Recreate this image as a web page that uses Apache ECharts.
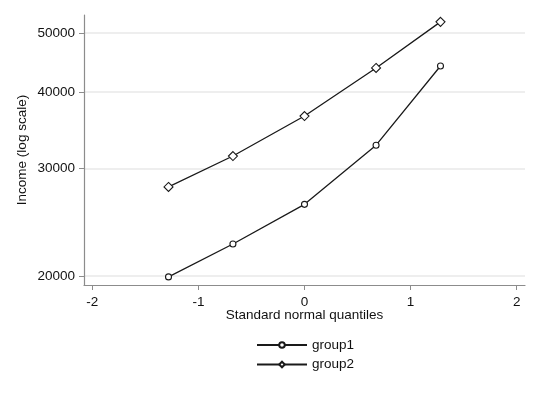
<!DOCTYPE html>
<html>
<head>
<meta charset="utf-8">
<script src="https://cdn.jsdelivr.net/npm/echarts@6/dist/echarts.min.js"></script>
<style>html,body{margin:0;padding:0;background:#fff}#c{width:540px;height:393px}</style>
</head>
<body>
<div id="c"></div>
<script>
const quantiles = [-1.2816, -0.6745, 0, 0.6745, 1.2816];
const group1 = [19930, 22560, 26200, 32750, 44150];
const group2 = [27980, 31440, 36560, 43830, 52150];
const xTicks = [-2, -1, 0, 1, 2];
const yTicks = [20000, 30000, 40000, 50000];

const font = 'Liberation Sans, Arial, sans-serif';
const chart = echarts.init(document.getElementById('c'));
function pairs(xs, ys) { return xs.map((x, i) => [x, ys[i]]); }
chart.setOption({
  animation: false,
  backgroundColor: '#fff',
  grid: { left: 84, right: 15, top: 15, bottom: 108 },
  xAxis: {
    type: 'value', min: -2.078, max: 2.078,
    name: 'Standard normal quantiles', nameLocation: 'middle', nameGap: 23, nameMoveOverlap: false,
    nameTextStyle: { fontFamily: font, fontSize: 13.5, color: '#111' },
    axisLine: { onZero: false, lineStyle: { color: '#8c8c8c', width: 1.2 } },
    axisTick: { customValues: xTicks, length: 5, lineStyle: { color: '#8c8c8c' } },
    axisLabel: { customValues: xTicks, margin: 10, fontFamily: font, fontSize: 13.5, color: '#111',
      formatter: v => String(v) },
    splitLine: { show: false }
  },
  yAxis: {
    type: 'log', min: 19330, max: 53515,
    name: 'Income (log scale)', nameLocation: 'middle', nameGap: 55, nameMoveOverlap: false,
    nameTextStyle: { fontFamily: font, fontSize: 13.5, color: '#111' },
    axisLine: { show: true, onZero: false, lineStyle: { color: '#8c8c8c', width: 1.2 } },
    axisTick: { show: true, customValues: yTicks, length: 5, lineStyle: { color: '#8c8c8c' } },
    axisLabel: { customValues: yTicks, margin: 9, fontFamily: font, fontSize: 13.5, color: '#111',
      formatter: v => String(Math.round(v)) },
    splitLine: { show: true, lineStyle: { color: '#e9e9e9', width: 1.5 } },
    minorTick: { show: false }, minorSplitLine: { show: false }
  },
  legend: {
    orient: 'vertical', left: 251, top: 333, itemWidth: 50, itemHeight: 7, itemGap: 5.5,
    textStyle: { fontFamily: font, fontSize: 13.5, color: '#111' },
    data: ['group1', 'group2']
  },
  series: [
    { name: 'group1', type: 'line', data: pairs(quantiles, group1),
      symbol: 'circle', symbolSize: 6, showAllSymbol: true,
      lineStyle: { color: '#1a1a1a', width: 1.3 },
      itemStyle: { color: '#fff', borderColor: '#1a1a1a', borderWidth: 1.1 } },
    { name: 'group2', type: 'line', data: pairs(quantiles, group2),
      symbol: 'diamond', symbolSize: 9, showAllSymbol: true,
      lineStyle: { color: '#1a1a1a', width: 1.3 },
      itemStyle: { color: '#fff', borderColor: '#1a1a1a', borderWidth: 1.1 } }
  ]
});
</script>
</body>
</html>
